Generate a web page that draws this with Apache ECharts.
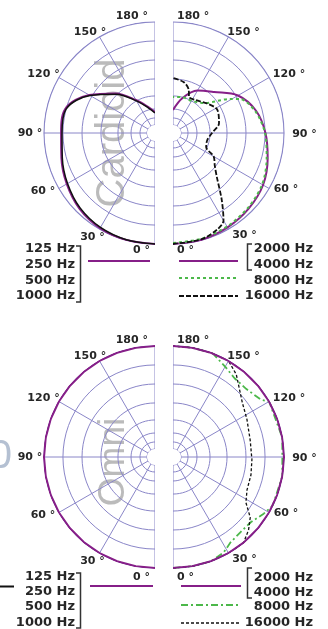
<!DOCTYPE html>
<html><head><meta charset="utf-8">
<script src="https://cdn.jsdelivr.net/npm/echarts@6/dist/echarts.min.js"></script>
<style>html,body{margin:0;padding:0;background:#fff}#c{width:328px;height:629px}</style>
</head><body><div id="c"></div>
<script>
// Radial unit: 0 = edge of the centre hole, 100 = outer ring
const ringLevels = [0, 6.8, 15.5, 28.2, 44.7, 63.1, 81.6];
const outerRing = 100;
const angleTicks = [0, 30, 60, 90, 120, 150, 180];
const angleTickLabels = ['0 °', '30 °', '60 °', '90 °', '120 °', '150 °', '180 °'];

// Cardioid, 125-1000 Hz (left half, top)
const cardLowAngles = [0, 15, 30, 45, 60, 75, 90, 105, 120, 135, 150, 165, 180];
const cardLowBlack  = [100, 99.5, 98.1, 95.1, 90.3, 85.4, 82.5, 81.6, 65.0, 45.6, 28.2, 17.5, 11.7];
const cardLowPurple = [100, 99.8, 98.8, 96.0, 91.2, 86.3, 83.4, 82.5, 66.0, 46.6, 29.2, 18.4, 12.5];
// Cardioid, 2000/4000 Hz (right half, top)
const cardMidAngles = [0, 15, 30, 45, 60, 75, 90, 105, 120, 135, 150, 165, 180];
const cardMid = [100, 99.5, 98.1, 96.1, 93.2, 87.4, 82.0, 75.7, 65.0, 48.5, 39.8, 27.2, 14.6];
// Cardioid, 8000 Hz
const card8kAngles = [0, 15, 30, 45, 60, 75, 90, 105, 117, 121, 134, 150, 165, 180];
const card8k = [99, 98.5, 97.1, 95.1, 92.2, 86.4, 81.6, 74.8, 65.0, 56.3, 34.0, 28.2, 28.2, 27.2];
// Cardioid, 16000 Hz
const card16kAngles = [0, 15, 25, 30, 36, 45, 52, 60, 67, 78, 90, 102, 118, 131, 145, 156, 160, 168, 180];
const card16k = [100, 99, 95.1, 90.3, 72.8, 52.4, 43.7, 37.9, 27.2, 26.2, 30.1, 37.9, 40.8, 35.9, 31.1, 30.5, 36.9, 42.7, 45.6];

// Omni, 125-1000 Hz (left half, bottom)
const omniLowAngles = [0, 10, 20, 30, 40, 50, 60, 70, 80, 90, 100, 110, 120, 130, 140, 150, 160, 170, 180];
const omniLow = [100, 100, 100, 100, 100, 100, 100, 100, 100, 100, 100, 100, 100, 100, 100, 100, 100, 100, 100];
// Omni, 2000/4000 Hz
const omniMidAngles = [0, 10, 20, 30, 40, 50, 60, 70, 80, 90, 100, 110, 120, 130, 140, 150, 160, 170, 180];
const omniMid = [100, 100, 100, 100, 100, 100, 100, 100, 100, 100, 100, 100, 100, 100, 100, 100, 100, 100, 100];
// Omni, 8000 Hz
const omni8kAngles = [0, 10, 20, 28, 34, 42, 50, 58, 64, 80, 100, 120, 123, 133, 142, 149.5, 159, 170, 180];
const omni8k = [100, 100, 100, 97.1, 92.2, 90.3, 90.8, 96.1, 100, 100, 100, 100, 94.2, 89.3, 89.3, 93.2, 100, 100, 100];
// Omni, 16000 Hz
const omni16kAngles = [0, 10, 20, 30, 39.5, 46, 52, 58, 66, 77, 88, 102, 117, 128, 142.5, 150, 160, 170, 180];
const omni16k = [100, 100, 100, 100, 100, 94.2, 87.4, 75.7, 70.9, 69.9, 68.9, 68.9, 72.8, 77.7, 93.2, 100, 100, 100, 100];

const legendLow = ['125 Hz', '250 Hz', '500 Hz', '1000 Hz'];
const legendHigh = ['2000 Hz', '4000 Hz', '8000 Hz', '16000 Hz'];

const RING = '#8a86c8';
const PURPLE = '#861f88';
const GREEN = '#4cb84a';
const BLACK = '#111111';
const TXT = '#262626';

const chart = echarts.init(document.getElementById('c'), null, {renderer: 'canvas', width: 328, height: 629});

// axis max 101 so the outer ring (100) sits at 111 px, just inside the polar edge
const centers = [[155, 133], [173, 133], [155, 457], [173, 457]];
const polar = centers.map(c => ({center: c, radius: [8, 112.03]}));
const angleAxis = centers.map((c, i) => ({
  polarIndex: i, type: 'value', min: 0, max: 180, interval: 30,
  startAngle: 270, endAngle: i % 2 === 0 ? 90 : 450, clockwise: i % 2 === 0,
  axisLine: {show: false}, axisTick: {show: false}, axisLabel: {show: false},
  splitLine: {show: false}
}));
const radiusAxis = centers.map((c, i) => ({
  polarIndex: i, type: 'value', min: 0, max: 101,
  axisLine: {show: false}, axisTick: {show: false}, axisLabel: {show: false},
  splitLine: {show: false}
}));

// grid rings (constant-level arcs) and spokes, drawn through the polar scale
function ringSeries(pi, levels, width) {
  const data = [];
  levels.forEach(v => {
    for (let a = 0; a <= 180; a += 5) data.push([v, a]);
    data.push(['-', '-']);
  });
  return {type: 'line', coordinateSystem: 'polar', polarIndex: pi, data: data, symbol: 'none',
    silent: true, animation: false, connectNulls: false, clip: false, z: 2,
    lineStyle: {color: RING, width: width}};
}
function spokeSeries(pi) {
  const data = [];
  angleTicks.forEach(a => { data.push([0, a], [outerRing, a], ['-', '-']); });
  return {type: 'line', coordinateSystem: 'polar', polarIndex: pi, data: data, symbol: 'none',
    silent: true, animation: false, connectNulls: false, clip: false, z: 2,
    lineStyle: {color: RING, width: 1}};
}

function ser(pi, angles, vals, color, width, type, smooth) {
  return {
    type: 'line', coordinateSystem: 'polar', polarIndex: pi,
    data: angles.map((a, k) => [vals[k], a]),
    symbol: 'none', smooth: smooth, silent: true, animation: false, clip: false, z: 3,
    lineStyle: {color: color, width: width, type: type}
  };
}

const series = [];
[0, 1, 2, 3].forEach(i => {
  series.push(ringSeries(i, ringLevels, 1));
  series.push(ringSeries(i, [outerRing], 1.2));
  series.push(spokeSeries(i));
});
series.push(
  ser(0, cardLowAngles, cardLowPurple, PURPLE, 2, 'solid', 0.35),
  ser(0, cardLowAngles, cardLowBlack, BLACK, 1.5, 'solid', 0.35),
  ser(1, cardMidAngles, cardMid, PURPLE, 2, 'solid', 0.35),
  ser(1, card8kAngles, card8k, GREEN, 2, [3, 3], 0.3),
  ser(1, card16kAngles, card16k, BLACK, 1.8, [5, 2], 0.3),
  ser(2, omniLowAngles, omniLow, PURPLE, 2.1, 'solid', false),
  ser(3, omni8kAngles, omni8k, GREEN, 1.8, [7, 3, 2, 3], false),
  ser(3, omni16kAngles, omni16k, BLACK, 1.3, [3, 2], false),
  ser(3, omniMidAngles, omniMid, PURPLE, 2.1, 'solid', false)
);

// angle tick label placement (text anchor, align) for the 4 half-plots
const labelPosLeft = [[150, 250, 'right'], [92.5, 237, 'center'], [43, 191, 'center'], [30, 133, 'center'], [43.5, 74, 'center'], [90, 32, 'center'], [148, 16, 'right']];
const labelPosRight = [[177, 250, 'left'], [244.5, 235, 'center'], [286, 189, 'center'], [304.5, 134, 'center'], [289, 74, 'center'], [243.5, 32, 'center'], [177, 16, 'left']];

const graphic = [];
function txt(x, y, s, align, font, color, extra) {
  return Object.assign({type: 'text', x: x, y: y, silent: true,
    style: {text: s, x: 0, y: 0, align: align, verticalAlign: 'middle', font: font, fill: color}}, extra || {});
}
[0, 324].forEach((dy, b) => {
  angleTickLabels.forEach((s, k) => {
    const pl = labelPosLeft[k], pr = labelPosRight[k];
    const adj = (k === 0 && b === 1) ? 3 : 0;
    graphic.push(txt(pl[0], pl[1] + dy + adj, s, pl[2], 'bold 11px "DejaVu Sans"', TXT));
    graphic.push(txt(pr[0], pr[1] + dy + adj, s, pr[2], 'bold 11px "DejaVu Sans"', TXT));
  });
});
// watermarks
graphic.push(txt(113, 133, 'Cardioid', 'center', '40px "Liberation Sans"', 'rgba(120,120,120,0.5)', {rotation: Math.PI / 2, z: -10}));
graphic.push(txt(114, 462, 'Omni', 'center', '37px "Liberation Sans"', 'rgba(120,120,120,0.5)', {rotation: Math.PI / 2, z: -10}));
// edge artefacts
graphic.push(txt(12, 457, '0', 'right', '40px "Liberation Sans"', '#b4c0d2', {z: -10}));
graphic.push({type: 'line', silent: true, shape: {x1: 0, y1: 586.5, x2: 14, y2: 586.5}, style: {stroke: '#111', lineWidth: 2}});

// legends
const legFont = 'bold 13px "DejaVu Sans"';
[[0, 249, 265, 281, 296, 246, 302, 261, 88, 150], [1, 577, 592, 607, 623, 573, 628, 586, 90, 153]].forEach(L => {
  const ys = [L[1], L[2], L[3], L[4]];
  legendLow.forEach((s, k) => graphic.push(txt(75, ys[k], s, 'right', legFont, TXT)));
  graphic.push({type: 'polyline', silent: true, shape: {points: [[76, L[5]], [80.5, L[5]], [80.5, L[6]], [76, L[6]]]}, style: {stroke: '#333', lineWidth: 1.5, fill: null}});
  graphic.push({type: 'line', silent: true, shape: {x1: L[8], y1: L[7], x2: L[9], y2: L[7]}, style: {stroke: PURPLE, lineWidth: 2}});
});
[[0, [249, 265, 281, 296], 244, 270, [261, 278, 296], 179, 238, [3, 3], [5, 2], 1.8],
 [1, [578, 593, 607, 623], 568, 598, [586, 605, 623], 181, 241, [7, 3, 2, 3], [3, 2], 1.3]].forEach(L => {
  legendHigh.forEach((s, k) => graphic.push(txt(313, L[1][k], s, 'right', legFont, TXT)));
  graphic.push({type: 'polyline', silent: true, shape: {points: [[252, L[2]], [247.5, L[2]], [247.5, L[3]], [252, L[3]]]}, style: {stroke: '#333', lineWidth: 1.5, fill: null}});
  graphic.push({type: 'line', silent: true, shape: {x1: L[5], y1: L[4][0], x2: L[6], y2: L[4][0]}, style: {stroke: PURPLE, lineWidth: 2}});
  graphic.push({type: 'line', silent: true, shape: {x1: L[5], y1: L[4][1], x2: L[6], y2: L[4][1]}, style: {stroke: GREEN, lineWidth: 2, lineDash: L[7]}});
  graphic.push({type: 'line', silent: true, shape: {x1: L[5], y1: L[4][2], x2: L[6], y2: L[4][2]}, style: {stroke: BLACK, lineWidth: L[9], lineDash: L[8]}});
});

chart.setOption({
  animation: false,
  backgroundColor: '#ffffff',
  polar: polar, angleAxis: angleAxis, radiusAxis: radiusAxis,
  series: series,
  graphic: {elements: graphic}
});
</script></body></html>
